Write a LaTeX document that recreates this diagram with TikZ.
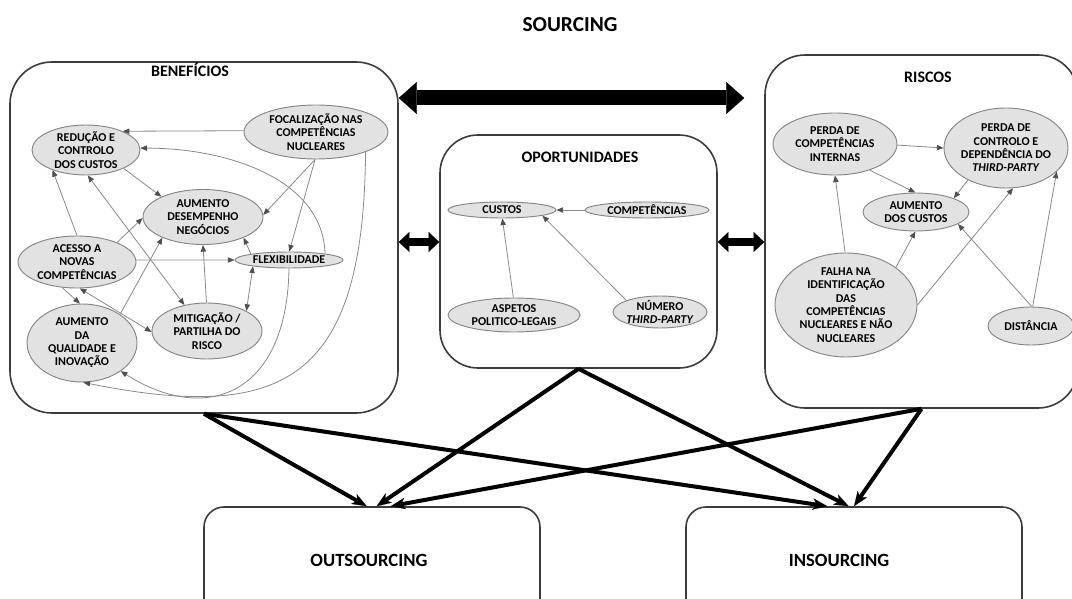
\documentclass[tikz,border=0pt]{standalone}
\usepackage{fontspec}
\setmainfont{Carlito}
\usetikzlibrary{arrows.meta,shapes.geometric}

\definecolor{edgegray}{HTML}{8A8A8A}
\definecolor{tipgray}{HTML}{4F4F4F}
\definecolor{bubblefill}{HTML}{E2E2E2}
\definecolor{bubbleline}{HTML}{858585}
\definecolor{panelline}{HTML}{3C3C3C}

\begin{document}
\begin{tikzpicture}[x=0.75pt,y=-0.75pt,
  gtip/.tip={Triangle[length=5pt,width=4pt,color=tipgray]},
  bubble/.style={ellipse, draw=bubbleline, fill=bubblefill, line width=0.7pt,
    inner xsep=-30pt, inner ysep=-30pt, align=center,
    font=\fontsize{9}{10}\selectfont\bfseries},
  thinone/.style={draw=edgegray, line width=0.6pt, -gtip},
  thinboth/.style={draw=edgegray, line width=0.6pt, gtip-gtip},
  panel/.style={rectangle, draw=panelline, line width=1.2pt, inner sep=0pt},
  paneltitle/.style={font=\fontsize{12}{14}\selectfont\bfseries},
  outcome/.style={panel, rounded corners=15pt, anchor=base, minimum width=252pt,
    text height=44.25pt, text depth=44.25pt,
    font=\fontsize{14}{16}\selectfont\bfseries},
  fatdbl/.style={line width=11.25pt,
    {Triangle[length=13.5pt,width=24pt,line width=0.1pt]}-{Triangle[length=13.5pt,width=24pt,line width=0.1pt]}},
  middbl/.style={line width=5.8pt,
    {Triangle[length=8pt,width=15pt,line width=0.1pt]}-{Triangle[length=8pt,width=15pt,line width=0.1pt]}},
  heavy/.style={line width=3pt, -{Stealth[length=11pt,width=8.5pt,inset=3pt,line width=0.1pt]}}
]
\useasboundingbox (0,0) rectangle (1072,599);
\clip (0,0) rectangle (1072,599);

% ---------- heading ----------
\node[font=\fontsize{16}{18}\selectfont\bfseries] (ttl) at (570,25) {SOURCING};

% ---------- three panels ----------
\node[panel, rounded corners=31.5pt, minimum width=291pt, minimum height=263.25pt] (ben) at (204,237.5) {};
\node[panel, rounded corners=28.5pt, minimum width=207.75pt, minimum height=174.75pt] (opp) at (578.5,251.5) {};
\node[panel, rounded corners=30pt, minimum width=234.75pt, minimum height=264.75pt] (ris) at (921.5,231.5) {};

\node[paneltitle] (tben) at (190,70) {BENEFÍCIOS};
\node[paneltitle] (topp) at (580,157) {OPORTUNIDADES};
\node[paneltitle] (tris) at (928,77) {RISCOS};

% ---------- outcomes ----------
\node[outcome] (out) at (372,566) {OUTSOURCING\hspace*{4.5pt}};
\node[outcome] (ins) at (854,566) {INSOURCING\hspace*{22.5pt}};

% ---------- benefits ----------
\node[bubble, minimum width=81pt, minimum height=37.5pt] (red) at (86,150) {REDUÇÃO E\\CONTROLO\\DOS CUSTOS};
\node[bubble, minimum width=108pt, minimum height=40.5pt] (foc) at (316,132) {FOCALIZAÇÃO NAS\\COMPETÊNCIAS\\NUCLEARES};
\node[bubble, minimum width=90pt, minimum height=41.25pt] (des) at (203,217) {AUMENTO\\DESEMPENHO\\NEGÓCIOS};
\node[bubble, minimum width=88.5pt, minimum height=39pt] (ace) at (77,262) {ACESSO A\\NOVAS\\COMPETÊNCIAS};
\node[bubble, minimum width=81pt, minimum height=12pt] (flex) at (289,260) {FLEXIBILIDADE};
\node[bubble, minimum width=82.5pt, minimum height=58.5pt] (qual) at (82,343) {AUMENTO\\DA\\QUALIDADE E\\INOVAÇÃO};
\node[bubble, minimum width=82.5pt, minimum height=42pt] (mit) at (207,331) {MITIGAÇÃO /\\PARTILHA DO\\RISCO};

\draw[thinone] (foc.179) -- (red.27);
\draw[thinone] (flex.10) .. controls +(-2,-74) and +(88,0) .. (red.2);
\draw[thinone] (red.-26) -- (des.154);
\draw[thinboth] (red.-86) -- (mit.131);
\draw[thinone] (ace.90) -- (red.211);
\draw[thinone] (ace.26) -- (des.181);
\draw[thinone] (ace.2) -- (flex.180);
\draw[thinone] (ace.-120) -- (qual.93);
\draw[thinboth] (ace.-84) -- (mit.181);
\draw[thinone] (qual.37) -- (des.207);
\draw[thinone] (mit.91) -- (des.270);
\draw[thinboth] (flex.190) -- (mit.27);
\draw[thinone] (flex.171) -- (des.333);
\draw[thinone] (foc.268) -- (des.2);
\draw[thinone] (foc.268) -- (flex.88);
\draw[thinone] (foc.-22) .. controls +(-2,230) and +(200,40) .. (qual.272);
\draw[thinone] (flex.270) .. controls +(-2,127) and +(85,54) .. (qual.-36);

% ---------- opportunities ----------
\node[bubble, minimum width=81pt, minimum height=12pt] (cus) at (502,210) {CUSTOS};
\node[bubble, minimum width=93pt, minimum height=12pt] (comp) at (647,210) {COMPETÊNCIAS};
\node[bubble, minimum width=99pt, minimum height=25.5pt] (asp) at (514,315) {ASPETOS\\POLITICO-LEGAIS};
\node[bubble, minimum width=70.5pt, minimum height=24pt] (num) at (660,312) {NÚMERO\\\textit{THIRD-PARTY}};

\draw[thinone] (comp.180) -- (cus.0);
\draw[thinone] (asp.92) -- (cus.-88);
\draw[thinone] (num.161) -- (cus.-8);

% ---------- risks ----------
\node[bubble, minimum width=93pt, minimum height=46.5pt] (pci) at (835,144) {PERDA DE\\COMPETÊNCIAS\\INTERNAS};
\node[bubble, minimum width=93pt, minimum height=60pt] (pcd) at (1006,148) {PERDA DE\\CONTROLO E\\DEPENDÊNCIA DO\\\textit{THIRD-PARTY}};
\node[bubble, minimum width=79.5pt, minimum height=28.5pt] (aum) at (916,212) {AUMENTO\\DOS CUSTOS};
\node[bubble, minimum width=106.5pt, minimum height=78pt] (fal) at (846,305) {FALHA NA\\IDENTIFICAÇÃO\\DAS\\COMPETÊNCIAS\\NUCLEARES E NÃO\\NUCLEARES};
\node[bubble, minimum width=64.5pt, minimum height=28.5pt] (dis) at (1031,326) {DISTÂNCIA};

\draw[thinone] (pci.-1) -- (pcd.180);
\draw[thinone] (pci.-37) -- (aum.92);
\draw[thinone] (pcd.-140) -- (aum.20);
\draw[thinone] (fal.91) -- (pci.270);
\draw[thinone] (fal.37) -- (aum.-92);
\draw[thinone] (fal.0) -- (pcd.-80);
\draw[thinone] (dis.88) -- (aum.-16);
\draw[thinone] (dis.85) -- (pcd.-25);

% ---------- links between panels ----------
\draw[fatdbl, shorten >=15pt] (ben.east |- 0,98) -- (ris.west |- 0,98);
\draw[middbl] (ben.east |- 0,242) -- (opp.west |- 0,242);
\draw[middbl] (opp.east |- 0,242) -- (ris.west |- 0,242);

% ---------- panels feeding the two outcomes ----------
\draw[heavy] (ben.south) -- ([xshift=-4pt]out.north);
\draw[heavy] (ben.south) -- ([xshift=-20pt]ins.north);
\draw[heavy] (opp.south) -- ([xshift=3.5pt]out.north);
\draw[heavy] (opp.south) -- ([xshift=-4pt]ins.north);
\draw[heavy] (ris.south) -- ([xshift=14pt]out.north);
\draw[heavy] (ris.south) -- (ins.north);
\end{tikzpicture}
\end{document}
